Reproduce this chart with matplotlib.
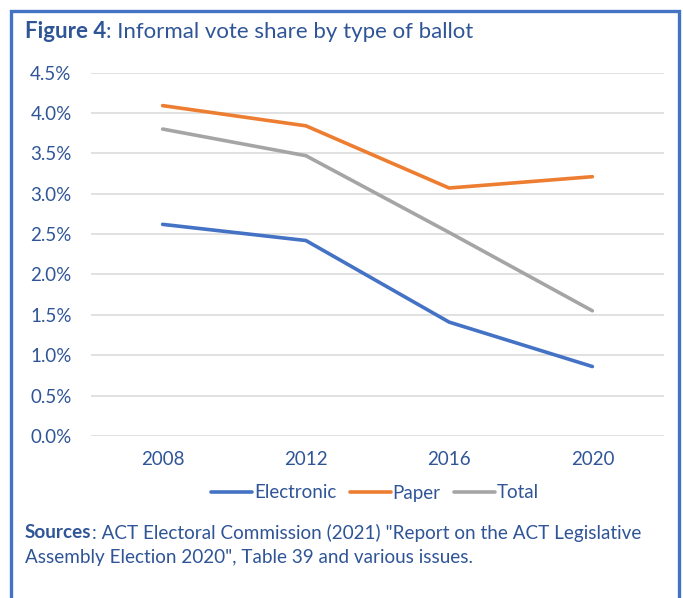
import matplotlib
matplotlib.use("Agg")
import matplotlib.pyplot as plt
from matplotlib.lines import Line2D
from matplotlib.ticker import PercentFormatter

years = ["2008", "2012", "2016", "2020"]
electronic = [2.62, 2.42, 1.41, 0.86]
paper = [4.09, 3.84, 3.07, 3.21]
total = [3.80, 3.47, 2.52, 1.55]
yticks = [0.0, 0.5, 1.0, 1.5, 2.0, 2.5, 3.0, 3.5, 4.0, 4.5]

FONT = ["Lato", "DejaVu Sans"]
plt.rcParams['font.family'] = FONT
TXT = "#2F5597"
BLUE = "#4472C4"
ORANGE = "#ED7D31"
GRAY = "#A5A5A5"

W, H = 683, 598
fig = plt.figure(figsize=(W / 100, H / 100), dpi=100)
ax = fig.add_axes([91 / W, 1 - 436 / H, (664 - 91) / W, (436 - 72.5) / H])

x = list(range(len(years)))
ax.plot(x, electronic, color=BLUE, lw=2.6, label="Electronic", solid_capstyle="round")
ax.plot(x, paper, color=ORANGE, lw=2.6, label="Paper", solid_capstyle="round")
ax.plot(x, total, color=GRAY, lw=2.6, label="Total", solid_capstyle="round")

ax.set_xlim(-0.5, len(years) - 0.5)
ax.set_ylim(0, 4.5)
ax.set_yticks(yticks)
ax.yaxis.set_major_formatter(PercentFormatter(decimals=1))
ax.set_xticks(x)
ax.set_xticklabels(years)
ax.grid(axis="y", color="#D9D9D9", lw=1.1)
ax.set_axisbelow(True)
for s in ax.spines.values():
    s.set_visible(False)
ax.tick_params(length=0, labelsize=13.5, colors=TXT)
ax.tick_params(axis="y", pad=14)
ax.tick_params(axis="x", pad=11)

leg = ax.legend(loc="center", bbox_to_anchor=(375 / W, 1 - 493 / H), bbox_transform=fig.transFigure,
                ncol=3, frameon=False, fontsize=13.5, handlelength=2.2, handletextpad=0.1,
                columnspacing=0.7, labelcolor=TXT)

# title
TY = 1 - 32 / H
t = fig.text(25 / W, TY, "Figure 4", color=TXT, fontsize=16, va="center", ha="left", fontweight="bold")
fig.canvas.draw()
bb = t.get_window_extent()
fig.text(bb.x1 / W, TY, ": Informal vote share by type of ballot", color=TXT, fontsize=16,
         va="center", ha="left")

# sources
SY = 1 - 533 / H
s1 = fig.text(25 / W, SY, "Sources", color=TXT, fontsize=13.6, va="center", ha="left", fontweight="bold")
fig.canvas.draw()
bb = s1.get_window_extent()
fig.text(bb.x1 / W, SY, ": ACT Electoral Commission (2021) \"Report on the ACT Legislative",
         color=TXT, fontsize=13.6, va="center", ha="left")
fig.text(25 / W, 1 - 557 / H, "Assembly Election 2020\", Table 39 and various issues.",
         color=TXT, fontsize=13.6, va="center", ha="left")

# border (left, top, right)
bx0, bx1, by0 = 11 / W, 679 / W, 1 - 11 / H
fig.add_artist(Line2D([bx0, bx0, bx1, bx1], [0, by0, by0, 0], transform=fig.transFigure,
                      color=BLUE, lw=2.4, solid_joinstyle="miter"))

fig.savefig("out.png", dpi=100)
